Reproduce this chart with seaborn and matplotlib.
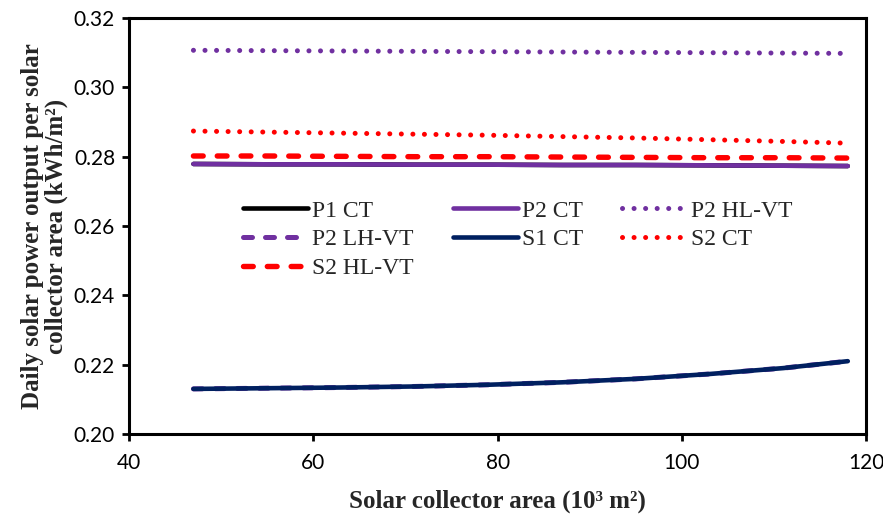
import matplotlib
matplotlib.use("Agg")
import matplotlib.pyplot as plt
import seaborn as sns

# ─── Data ─────────────────────────────────────────────────────────────────────
area = [47, 55, 63, 71, 79, 87, 95, 103, 111, 118]   # 10^3 m2

p1_ct    = [0.2779, 0.2778, 0.2778, 0.2777, 0.2777, 0.2776, 0.2776, 0.2775, 0.2774, 0.2773]
p2_ct    = [0.2779, 0.2778, 0.2778, 0.2777, 0.2777, 0.2776, 0.2776, 0.2775, 0.2774, 0.2773]
p2_hl_vt = [0.3107, 0.3106, 0.3105, 0.3104, 0.3103, 0.3102, 0.3101, 0.3100, 0.3099, 0.3098]
p2_lh_vt = [0.2130, 0.2132, 0.2134, 0.2137, 0.2142, 0.2149, 0.2159, 0.2173, 0.2190, 0.2210]
s1_ct    = [0.2130, 0.2132, 0.2134, 0.2137, 0.2142, 0.2149, 0.2159, 0.2173, 0.2190, 0.2210]
s2_ct    = [0.2874, 0.2871, 0.2868, 0.2865, 0.2862, 0.2858, 0.2854, 0.2849, 0.2844, 0.2839]
s2_hl_vt = [0.2802, 0.2802, 0.2801, 0.2800, 0.2800, 0.2799, 0.2798, 0.2797, 0.2797, 0.2796]

x_ticks = [40, 60, 80, 100, 120]
y_ticks = [0.20, 0.22, 0.24, 0.26, 0.28, 0.30, 0.32]

PURPLE = "#7030A0"
NAVY   = "#002060"
RED    = "#FF0000"
DOT    = (0, (0.01, 2.3))
DASH   = (0, (1.8, 2.6))

# name, values, colour, linestyle, width
series = [
    ("P1 CT",    p1_ct,    "black", "-",  3.3),
    ("P2 CT",    p2_ct,    PURPLE,  "-",  3.3),
    ("P2 HL-VT", p2_hl_vt, PURPLE,  DOT,  3.6),
    ("P2 LH-VT", p2_lh_vt, PURPLE,  DASH, 3.6),
    ("S1 CT",    s1_ct,    NAVY,    "-",  3.3),
    ("S2 CT",    s2_ct,    RED,     DOT,  3.6),
    ("S2 HL-VT", s2_hl_vt, RED,     DASH, 3.9),
]

# ─── Plot ─────────────────────────────────────────────────────────────────────
sns.set_style("white")
fig = plt.figure(figsize=(8.83, 5.16), dpi=100)
ax = fig.add_axes([0.146, 0.159, 0.835, 0.806])

handles = {}
for name, vals, col, ls, lw in series:
    sns.lineplot(x=area, y=vals, ax=ax, color=col, linewidth=lw,
                 label=name, legend=False)
    line = ax.lines[-1]
    line.set_linestyle(ls)
    line.set_dash_capstyle("round")
    line.set_solid_capstyle("round")
    handles[name] = line

ax.set_xlim(40, 120)
ax.set_ylim(0.20, 0.32)
ax.set_xticks(x_ticks)
ax.set_yticks(y_ticks)
ax.set_xticklabels([str(t) for t in x_ticks])
ax.set_yticklabels([f"{t:.2f}" for t in y_ticks])

for sp in ax.spines.values():
    sp.set_visible(True)
    sp.set_color("black")
    sp.set_linewidth(2.2)

ax.tick_params(axis="both", direction="out", length=5, width=2,
               colors="black", labelsize=15, pad=5,
               bottom=True, left=True)
ax.tick_params(axis="x", pad=9)
for lab in ax.get_xticklabels() + ax.get_yticklabels():
    lab.set_family("Lato")

ax.set_xlabel("Solar collector area (10³ m²)", family="Liberation Serif",
              fontweight="bold", fontsize=18, labelpad=12)
ax.set_ylabel("Daily solar power output per solar\ncollector area (kWh/m²)",
              family="Liberation Serif", fontweight="bold", fontsize=18,
              labelpad=4, linespacing=1.05)

# legend filled row by row -> reorder for column-major fill
order = ["P1 CT", "P2 LH-VT", "S2 HL-VT", "P2 CT", "S1 CT", "P2 HL-VT", "S2 CT"]
ax.legend([handles[n] for n in order], order, ncol=3, frameon=False,
          loc="upper left", bbox_to_anchor=(0.155, 0.562),
          borderaxespad=0, borderpad=0,
          prop={"family": "Liberation Serif", "size": 17},
          handlelength=2.75, handletextpad=0.17, columnspacing=1.65,
          labelspacing=0.3)

fig.savefig("out.png", dpi=100)
